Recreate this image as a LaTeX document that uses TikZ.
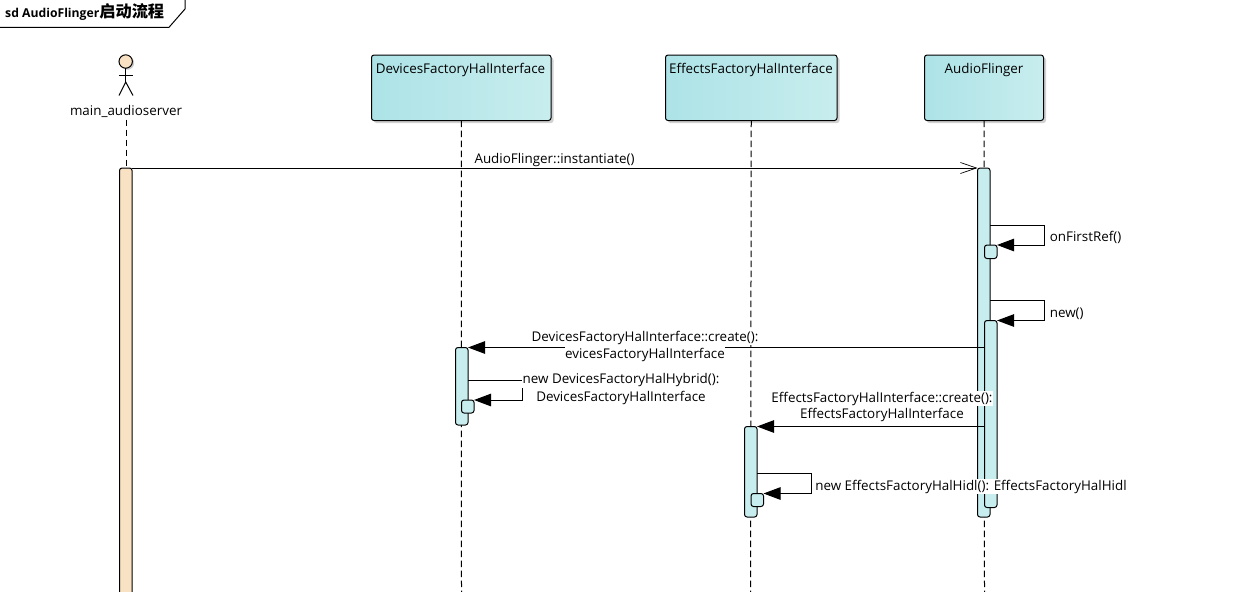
\documentclass[tikz,border=0pt]{standalone}
\usepackage{fontspec}
\setmainfont{Open Sans}
\newfontfamily\cjk{Noto Sans CJK SC}
\usetikzlibrary{arrows.meta,shadows}
\definecolor{barcyan}{HTML}{C8EDEE}
\definecolor{boxleft}{HTML}{ADE3E7}
\definecolor{actorskin}{HTML}{F9E2C4}
\tikzset{
	lifeline/.style={line width=1pt, dash pattern=on 6.5pt off 3.5pt},
	softshadow/.style={drop shadow={shadow xshift=2.5pt, shadow yshift=-2.5pt, fill=black!30, opacity=0.6}},
	lifebox/.style={draw, line width=1pt, rounded corners=2.5pt, inner sep=0, outer sep=0, anchor=north west, minimum height=65.5pt, left color=boxleft, right color=barcyan, softshadow},
	activebar/.style={draw, line width=1pt, rounded corners=2.5pt, inner sep=0, outer sep=0, anchor=north west, minimum width=12.5pt, fill=barcyan},
	msgtext/.style={font=\fontsize{13.4}{15}\selectfont, fill=white, inner sep=0.6pt, text depth=3.5pt, text height=11pt},
	msgline/.style={line width=1pt, -{Triangle[length=17pt, width=12.5pt]}},
	callline/.style={line width=1pt, -{Straight Barb[length=16pt, width=11pt, line width=0.7pt]}}
}
\begin{document}
\begin{tikzpicture}[x=1pt, y=-1pt]
		%%%%% START %%%%%
		\useasboundingbox (0, 0) rectangle (1235, 592);

		% title tab
		\draw[line width=1pt] (-2, 27.3) -- (169, 27.3) -- (185, 9) -- (185, -2);
		\node[anchor=west, inner sep=0, font=\fontsize{12.2}{14}\selectfont\bfseries] (title) at (5, 12.5) {sd AudioFlinger{\cjk\fontsize{16.2}{16}\selectfont 启动流程}};

		% actor
		\draw[fill=black!20, draw=none] (127.5, 63) circle (6.7);
		\draw[line width=1pt, fill=actorskin] (125.7, 61.5) circle (6.7);
		\draw[line width=1pt] (125.7, 68.2) -- (125.7, 82) (119, 75) -- (133, 75);
		\draw[line width=1pt] (119, 95.5) -- (125.7, 82) -- (133, 95.5);
		\node[msgtext, fill=none] (mainname) at (126, 111.5) {main\_audioserver};

		% lifeline heads
		\node[lifebox, minimum width=179.5pt] (devbox) at (371.5, 55) {};
		\node[lifebox, minimum width=171.5pt] (effbox) at (665.5, 55) {};
		\node[lifebox, minimum width=119pt] (afbox) at (924.5, 55) {};
		\node[msgtext, fill=none] (devname) at (460.5, 69.5) {DevicesFactoryHalInterface};
		\node[msgtext, fill=none] (effname) at (751, 69.5) {EffectsFactoryHalInterface};
		\node[msgtext, fill=none] (afname) at (984, 69.5) {AudioFlinger};

		\coordinate (mainend) at (126, 592);
		\coordinate (devend) at (461.5, 592);
		\coordinate (effend) at (750.5, 592);
		\coordinate (afend) at (984.5, 592);
		\draw[lifeline] (mainname.south) -- (mainend);
		\draw[lifeline] (devbox.south) -- (devend);
		\draw[lifeline] (effbox.south) -- (effend);
		\draw[lifeline] (afbox.south) -- (afend);

		% activations
		\node[activebar, fill=actorskin, minimum height=440pt] (mainbar) at (119.5, 168) {};
		\node[activebar, minimum height=349pt] (afbar) at (977.5, 168) {};
		\node[activebar, minimum height=13.5pt] (firstbar) at (984.5, 245) {};
		\node[activebar, minimum height=187pt] (newbar) at (984.5, 320.5) {};
		\node[activebar, minimum height=77.5pt] (devbar) at (455.5, 347.5) {};
		\node[activebar, minimum height=13pt] (hybridbar) at (461.5, 400) {};
		\node[activebar, minimum height=90.5pt] (effbar) at (744.5, 426.5) {};
		\node[activebar, minimum height=13pt] (hidlbar) at (751, 493.5) {};

		% messages
		\draw[callline] (mainbar.north east) -- (afbar.north west);
		\coordinate (firstout) at (990, 225);
		\draw[msgline] (firstout) -- ++(54.5, 0) |- (firstbar.north east);
		\coordinate (newout) at (990, 300.5);
		\draw[msgline] (newout) -- ++(54.5, 0) |- (newbar.north east);
		\coordinate (devout) at (984.5, 347.5);
		\draw[msgline] (devout) -- (devbar.north east);
		\coordinate (hybridout) at (468, 380);
		\draw[msgline] (hybridout) -- ++(54, 0) |- (hybridbar.north east);
		\coordinate (effout) at (984.5, 426.5);
		\draw[msgline] (effout) -- (effbar.north east);
		\coordinate (hidlout) at (757, 473.5);
		\draw[msgline] (hidlout) -- ++(54, 0) |- (hidlbar.north east);

		% labels
		\node[msgtext, fill=none] (instlabel) at (554.5, 159.5) {AudioFlinger::instantiate()};
		\node[msgtext, fill=none, anchor=west] (firstlabel) at (1049, 238) {onFirstRef()};
		\node[msgtext, fill=none, anchor=west] (newlabel) at (1049, 314) {new()};
		\node[msgtext] (devlabela) at (645, 337.5) {DevicesFactoryHalInterface::create():};
		\node[msgtext] (devlabelb) at (645, 354.5) {evicesFactoryHalInterface};
		\node[msgtext] (hybridlabela) at (621, 380) {new DevicesFactoryHalHybrid():};
		\node[msgtext] (hybridlabelb) at (621, 397.5) {DevicesFactoryHalInterface};
		\node[msgtext] (efflabela) at (882, 398.5) {EffectsFactoryHalInterface::create():};
		\node[msgtext] (efflabelb) at (882, 415) {EffectsFactoryHalInterface};
		\node[msgtext] (hidllabel) at (971, 486.5) {new EffectsFactoryHalHidl(): EffectsFactoryHalHidl};
		%%%%% END %%%%%
	\end{tikzpicture}
\end{document}
